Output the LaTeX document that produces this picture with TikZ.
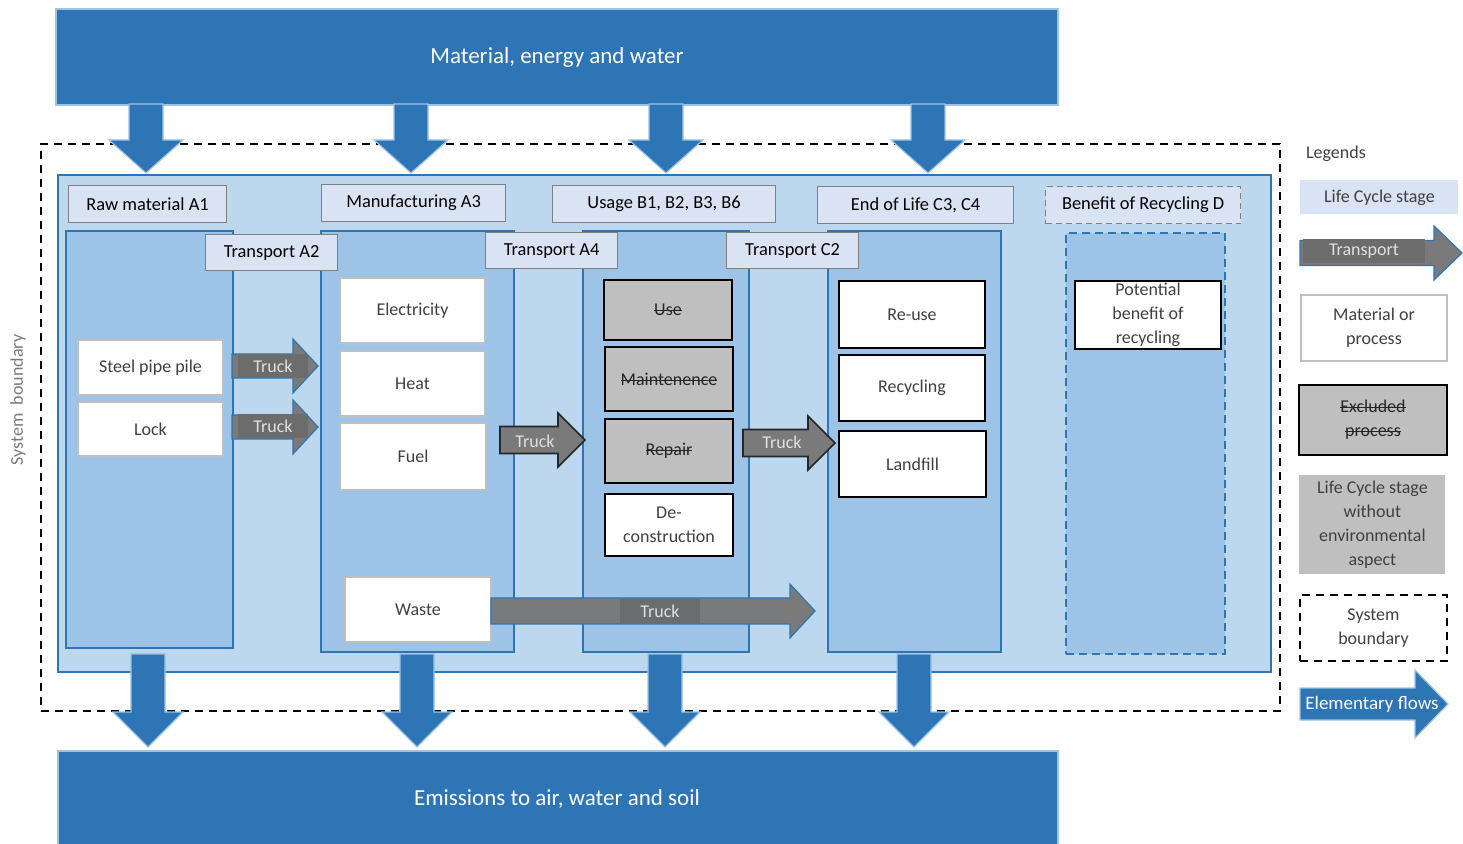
\documentclass[tikz,border=0pt]{standalone}
\usepackage{fontspec}
\setmainfont{Carlito}
\usetikzlibrary{calc}
\newlength\strklen
\newcommand\strk[1]{\settowidth\strklen{#1}\rlap{\rule[0.24em]{\strklen}{0.5pt}}#1}
\definecolor{dblue}{HTML}{2E75B6}
\definecolor{edgeblue}{HTML}{9DC3E6}
\definecolor{lblue}{HTML}{BDD7EE}
\definecolor{mblue}{HTML}{9DC3E6}
\definecolor{hblue}{HTML}{DAE3F3}
\definecolor{tgray}{HTML}{7A7A7A}
\definecolor{lgray}{HTML}{6C6C6C}
\definecolor{xgray}{HTML}{BFBFBF}
\definecolor{bgray}{HTML}{BFBFBF}
\definecolor{txt}{HTML}{404040}
\newcommand\rbox[7]{\node[#1,anchor=north west,inner sep=0pt,minimum width={(#5-#3)*0.5pt},minimum height={(#6-#4)*0.5pt}] (#2) at (#3,#4) {#7};}
\newcommand\varrow[6]{\path[#1] let \p1=(#2), \p2=(#3) in (\x1-#4,\y1) -- (\x1-#4,\y2+#6) -- (\x1-#5,\y2+#6) -- (\x1,\y2) -- (\x1+#5,\y2+#6) -- (\x1+#4,\y2+#6) -- (\x1+#4,\y1) -- cycle;}
\newcommand\harrow[6]{\path[#1] let \p1=(#2), \p2=(#3) in (\x1,\y2+#4) -- (\x2-#6,\y2+#4) -- (\x2-#6,\y2+#5) -- (\x2,\y2) -- (\x2-#6,\y2-#5) -- (\x2-#6,\y2-#4) -- (\x1,\y2-#4) -- cycle;}
\tikzset{
  banner/.style={fill=dblue,draw=edgeblue,line width=1pt,text=white,font=\fontsize{11.5}{13}\selectfont},
  outerbox/.style={fill=lblue,draw=dblue,line width=1pt},
  column/.style={fill=mblue,draw=dblue,line width=1pt},
  dcolumn/.style={fill=mblue,draw=dblue,line width=1pt,dash pattern=on 4pt off 2.5pt},
  stagehdr/.style={fill=hblue,draw=gray,line width=0.6pt,font=\fontsize{9.2}{11}\selectfont,text=black},
  dstagehdr/.style={stagehdr,dash pattern=on 3pt off 2pt},
  matbox/.style={fill=white,draw=bgray,line width=1pt,font=\fontsize{9}{12}\selectfont,text=txt,align=center},
  procbox/.style={fill=white,draw=black,line width=1pt,font=\fontsize{9}{12}\selectfont,text=txt,align=center},
  exclbox/.style={fill=xgray,draw=black,line width=1pt,font=\fontsize{9}{12}\selectfont,text=black!85,align=center},
  bnd/.style={draw=black,line width=1pt,dash pattern=on 4pt off 3pt},
  flowarrow/.style={fill=dblue,draw=edgeblue,line width=0.6pt},
  truckA/.style={fill=tgray,draw=dblue,line width=0.6pt},
  truckB/.style={fill=tgray,draw=black!85,line width=0.8pt},
  trucklbl/.style={fill=lgray,text=black!12,font=\fontsize{9}{11}\selectfont,inner sep=0pt,minimum height=12pt},
  truckt/.style={text=black!12,font=\fontsize{9}{11}\selectfont,inner sep=0pt},
  legtxt/.style={font=\fontsize{9}{12}\selectfont,text=txt,align=center}
}
\begin{document}
\begin{tikzpicture}[x=0.5pt,y=-0.5pt]
\useasboundingbox (0,0) rectangle (1463,844);
% banners
\rbox{banner}{top}{55}{8}{1057}{104}{Material, energy and water}
\rbox{banner}{bottom}{57}{750}{1057}{848}{}
\node[text=white,font=\fontsize{11.5}{13}\selectfont] (bottomtxt) at (557,799) {Emissions to air, water and soil};
% system boundary
\rbox{bnd}{sysb}{40}{143}{1279}{710}{}
\node[rotate=90,text=tgray,font=\fontsize{9}{11}\selectfont] (sysbtxt) at (18,400) {System\ \ boundary};
% outer life cycle box
\rbox{outerbox}{outer}{57}{174}{1270}{671}{}
% columns
\rbox{column}{colA1}{65}{230}{232}{647}{}
\rbox{column}{colA3}{320}{230}{513}{651}{}
\rbox{column}{colB}{582}{230}{748}{651}{}
\rbox{column}{colC}{827}{230}{1000}{651}{}
\rbox{dcolumn}{colD}{1065}{232}{1224}{653}{}
% stage headers
\rbox{stagehdr}{hA1}{68}{185}{226}{222}{Raw material A1}
\rbox{stagehdr}{hA3}{321}{184}{505}{221}{Manufacturing A3}
\rbox{stagehdr}{hB}{552}{185}{775}{222}{Usage B1, B2, B3, B6}
\rbox{stagehdr}{hC}{817}{186}{1013}{223}{End of Life C3, C4}
\rbox{dstagehdr}{hD}{1045}{186}{1240}{223}{Benefit of Recycling D}
% transport headers
\rbox{stagehdr}{tA2}{205}{234}{337}{270}{Transport A2}
\rbox{stagehdr}{tA4}{485}{232}{617}{268}{Transport A4}
\rbox{stagehdr}{tC2}{726}{232}{858}{268}{Transport C2}
% material boxes
\rbox{matbox}{steel}{77}{339}{222}{394}{Steel pipe pile}
\rbox{matbox}{lock}{77}{401}{222}{455}{Lock}
\rbox{matbox}{elec}{339}{277}{484}{342}{Electricity}
\rbox{matbox}{heat}{339}{350}{484}{415}{Heat}
\rbox{matbox}{fuel}{339}{422}{485}{489}{Fuel}
\rbox{matbox}{waste}{344}{576}{490}{641}{Waste}
% excluded
\rbox{exclbox}{use}{603}{279}{731}{339}{\strk{Use}}
\rbox{exclbox}{maint}{604}{346}{732}{410}{\strk{Maintenence}}
\rbox{exclbox}{repair}{604}{418}{732}{482}{\strk{Repair}}
\rbox{procbox}{decon}{604}{493}{732}{555}{De-\\construction}
% end of life
\rbox{procbox}{reuse}{838}{280}{984}{347}{Re-use}
\rbox{procbox}{recyc}{838}{354}{984}{420}{Recycling}
\rbox{procbox}{landfill}{838}{430}{985}{496}{Landfill}
\rbox{procbox}{potential}{1074}{280}{1220}{348}{Potential\\benefit of\\recycling}
% top flow arrows
\coordinate (ts1) at (146,104); \coordinate (te1) at (146,173);
\coordinate (ts2) at (411,104); \coordinate (te2) at (411,173);
\coordinate (ts3) at (666,104); \coordinate (te3) at (666,173);
\coordinate (ts4) at (928,104); \coordinate (te4) at (928,173);
\varrow{flowarrow}{ts1}{te1}{8.5pt}{18.5pt}{16.5pt}
\varrow{flowarrow}{ts2}{te2}{8.5pt}{18.5pt}{16.5pt}
\varrow{flowarrow}{ts3}{te3}{8.5pt}{18.5pt}{16.5pt}
\varrow{flowarrow}{ts4}{te4}{8.5pt}{18.5pt}{16.5pt}
% bottom flow arrows
\coordinate (bs1) at (148,654); \coordinate (be1) at (148,747);
\coordinate (bs2) at (417,654); \coordinate (be2) at (417,747);
\coordinate (bs3) at (665,654); \coordinate (be3) at (665,747);
\coordinate (bs4) at (914,654); \coordinate (be4) at (914,747);
\varrow{flowarrow}{bs1}{be1}{8.5pt}{17.5pt}{17.5pt}
\varrow{flowarrow}{bs2}{be2}{8.5pt}{17.5pt}{17.5pt}
\varrow{flowarrow}{bs3}{be3}{8.5pt}{17.5pt}{17.5pt}
\varrow{flowarrow}{bs4}{be4}{8.5pt}{17.5pt}{17.5pt}
% trucks A2
\coordinate (a2s1) at (232,366);
\coordinate (a2e1) at (318,366);
\harrow{truckA}{a2s1}{a2e1}{6pt}{13.5pt}{12.5pt}
\node[trucklbl,minimum width=35pt] (truck1) at (273,366) {Truck};
\coordinate (a2s2) at (232,427);
\coordinate (a2e2) at (318,427);
\harrow{truckA}{a2s2}{a2e2}{6pt}{13.5pt}{12.5pt}
\node[trucklbl,minimum width=35pt] (truck2) at (273,426) {Truck};
% truck A4
\coordinate (a4s) at (500,440);
\coordinate (a4e) at (585,440);
\harrow{truckB}{a4s}{a4e}{6.75pt}{13.5pt}{13.5pt}
\node[truckt] (truck3) at (535,441) {Truck};
% truck C2
\coordinate (c2s) at (743,443);
\coordinate (c2e) at (835,443);
\harrow{truckB}{c2s}{c2e}{6.75pt}{13.5pt}{13.5pt}
\node[truckt] (truck4) at (782,442) {Truck};
% waste truck
\coordinate (ws) at (491,611);
\coordinate (we) at (815,611);
\harrow{truckA}{ws}{we}{6.5pt}{13.5pt}{12.5pt}
\node[trucklbl,minimum width=40pt] (truck5) at (660,611) {Truck};
% legends
\node[legtxt,anchor=west] (legends) at (1299,154) {Legends};
\rbox{fill=hblue,legtxt}{lg1}{1300}{180}{1458}{214}{Life Cycle stage}
\coordinate (lts) at (1300,253);
\coordinate (lte) at (1462,253);
\harrow{truckA}{lts}{lte}{6.25pt}{13.5pt}{14pt}
\node[trucklbl,minimum width=61pt] (lg2) at (1364,251) {Transport};
\rbox{matbox}{lg3}{1300}{294}{1446}{360}{Material or\\process}
\rbox{exclbox}{lg4}{1298}{384}{1446}{454}{\strk{Excluded}\\\strk{process}}
\rbox{fill=xgray,legtxt}{lg5}{1299}{475}{1445}{574}{Life Cycle stage\\without\\environmental\\aspect}
\rbox{bnd,legtxt}{lg6}{1299}{594}{1446}{660}{System\\boundary}
\coordinate (lfs) at (1300,704);
\coordinate (lfe) at (1448,704);
\harrow{flowarrow}{lfs}{lfe}{8pt}{17pt}{16.5pt}
\node[text=white,font=\fontsize{9.5}{11}\selectfont,inner sep=0pt] (lg7) at (1372,704) {Elementary flows};
\end{tikzpicture}
\end{document}
